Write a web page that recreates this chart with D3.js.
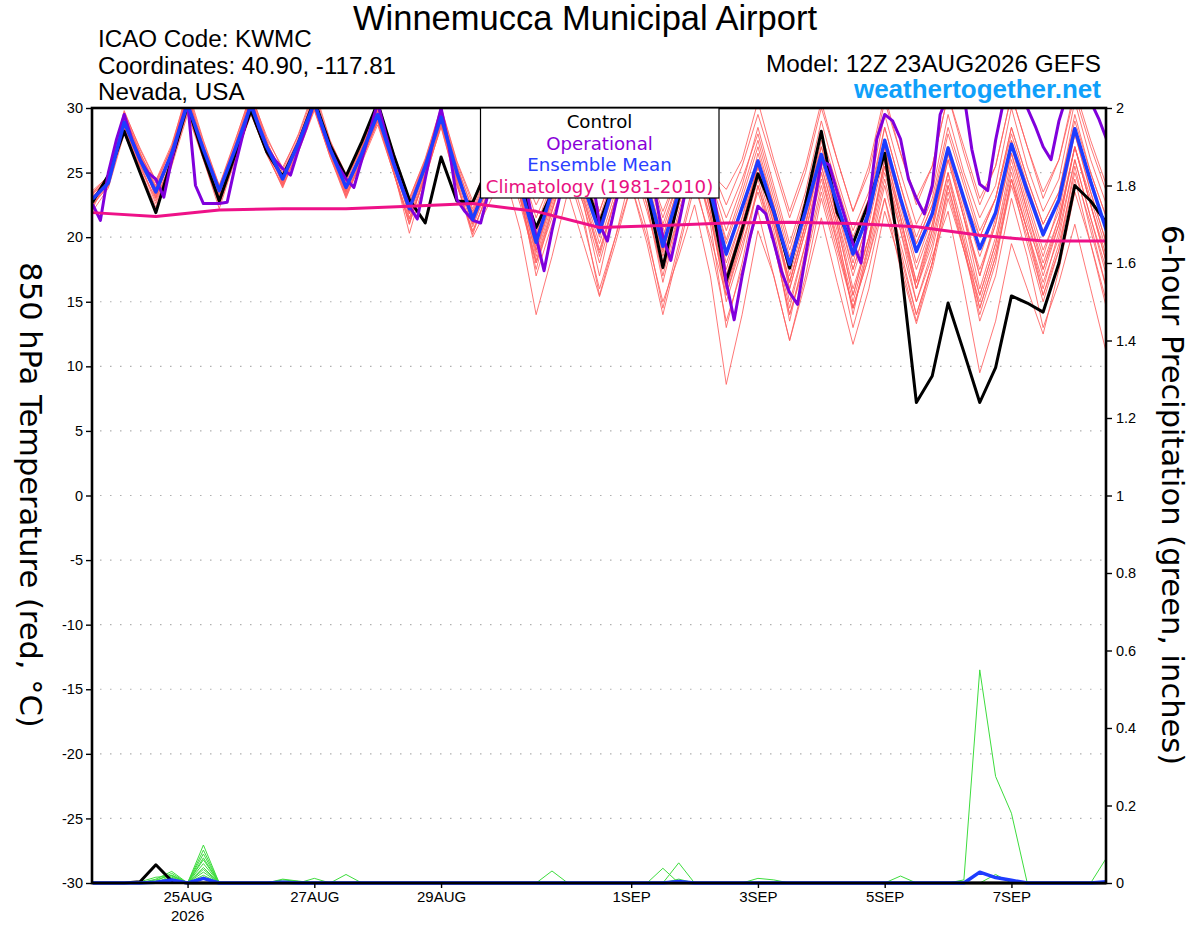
<!DOCTYPE html>
<html>
<head>
<meta charset="utf-8">
<script src="https://cdn.jsdelivr.net/npm/d3@7"></script>
<style>
  body { margin: 0; background: #fff; }
  svg text { font-family: "DejaVu Sans", sans-serif; }
  .head, .tick text { font-family: "Liberation Sans", Arial, sans-serif; }
</style>
</head>
<body>
<svg id="chart" width="1200" height="927"></svg>
<script>
// run 12Z 23AUG2026, 6-hourly to 384 h
const runStart = Date.UTC(2026, 7, 23, 12)
const leadHours = d3.range(0, 385, 6)
const opHours = d3.range(0, 385, 3)
const climoHours = d3.range(0, 385, 24)

const tempTicks = [-30, -25, -20, -15, -10, -5, 0, 5, 10, 15, 20, 25, 30]
const gridTemps = [-25, -20, -15, -10, -5, 0, 5, 10, 15, 20, 25]
const precipTicks = [0, 0.2, 0.4, 0.6, 0.8, 1, 1.2, 1.4, 1.6, 1.8, 2]
const precipTickLabels = ['0', '0.2', '0.4', '0.6', '0.8', '1', '1.2', '1.4', '1.6', '1.8', '2']
const dayTicks = ['2026-08-25', '2026-08-27', '2026-08-29', '2026-09-01', '2026-09-03', '2026-09-05', '2026-09-07']
const dayTickLabels = ['25AUG', '27AUG', '29AUG', '1SEP', '3SEP', '5SEP', '7SEP']

const legendItems = ['Control', 'Operational', 'Ensemble Mean', 'Climatology (1981-2010)']

// 850 hPa temperature, C
const controlTemp = [22.7, 24.8, 28.2, 25.0, 21.9, 26.0, 30.2, 26.3, 22.8, 26.4, 29.8, 26.6, 24.7,
  27.3, 30.6, 27.1, 24.7, 27.4, 30.4, 26.4, 22.9, 21.1, 26.2, 22.8, 22.7,
  25.5, 27.5, 24.2, 20.75, 23.4, 27.0, 24.5, 21.1, 24.5, 27.0, 23.5, 17.65, 23.0, 27.0, 23.0, 16.6,
  20.6, 24.9, 22.0, 17.6, 22.6, 28.2, 21.9, 19.5, 22.7, 26.5, 18.0, 7.2, 9.25, 14.9, 11.1, 7.2,
  9.9, 15.45, 14.9, 14.2, 18.0, 24.0, 22.8, 21.1]

const meanTemp = [22.95, 24.2, 28.9, 26.0, 23.5, 26.5, 30.3, 26.8, 23.6, 26.8, 30.2, 27.0, 24.5,
  27.3, 30.4, 26.8, 23.85, 26.5, 29.5, 25.7, 22.2, 25.5, 29.3, 25.0, 21.4,
  24.5, 27.5, 24.0, 19.6, 23.5, 27.0, 24.0, 20.4, 24.5, 27.5, 24.0, 19.3, 23.5, 27.0, 23.5, 18.7,
  22.3, 25.9, 22.0, 17.9, 22.0, 26.4, 22.6, 18.7, 21.9, 27.5, 23.0, 18.9, 21.8, 26.9, 23.0, 19.1,
  21.9, 27.2, 23.6, 20.2, 22.9, 28.4, 24.3, 20.5]

// operational run is 3-hourly
const operationalTemp = [22.56, 21.3, 25.0, 27.5, 29.5, 27.5, 26.0, 25.0, 24.5, 23.1, 26.0, 28.5, 30.5,
  24.0, 22.6, 22.6, 22.6, 22.7, 25.5, 28.0, 30.5, 28.5, 27.0, 26.0, 25.3, 24.8,
  26.8, 28.5, 30.5, 28.5, 26.8, 25.5, 24.5, 23.85, 26.0, 28.2, 30.4, 28.0, 25.8,
  24.0, 22.4, 21.4, 24.5, 27.5, 30.0, 27.0, 22.9, 22.0, 21.3, 21.1, 23.5, 26.0,
  27.5, 27.0, 25.0, 23.0, 20.0, 17.4, 20.5, 23.2, 26.0, 27.5, 26.5, 25.0, 21.0,
  19.7, 22.5, 25.0, 27.0, 27.0, 25.5, 23.5, 20.0, 18.2, 21.0, 24.0, 26.5, 27.0,
  25.0, 21.0, 16.5, 13.6, 17.0, 20.0, 22.4, 21.8, 19.6, 17.3, 15.7, 14.8, 18.5,
  22.2, 25.9, 25.6, 23.5, 21.5, 19.5, 18.0, 22.5, 27.6, 29.5, 29.0, 27.6, 24.5,
  23.0, 21.8, 24.0, 29.5, 31.0, 32.0, 31.0, 26.8, 24.1, 23.6, 27.5, 30.5, 32.0,
  31.5, 30.0, 28.6, 27.0, 26.0, 29.0, 31.0, 32.0, 31.5, 30.5, 29.2, 27.6]

// daily climatology at 12Z
const climoTemp = [21.9, 21.6, 22.1, 22.2, 22.2, 22.4, 22.6, 22.0, 20.75, 20.9, 21.1, 21.15, 21.05,
  20.8, 20.15, 19.7, 19.7]

const memberTemps = [
  [22.5, 24.0, 29.5, 26.5, 23.0, 26.8, 31.0, 27.0, 23.0, 27.0, 31.0, 27.5, 24.0, 27.5, 31.0, 27.0, 23.5, 26.8, 30.0, 26.0, 21.5, 25.0, 29.5, 25.5, 21.0,
   24.8, 28.0, 24.5, 19.0, 23.0, 27.5, 24.5, 20.0, 24.0, 28.0, 24.5, 19.0, 23.0, 27.5, 23.0, 17.5,
   21.5, 26.5, 22.5, 17.0, 21.5, 27.0, 23.0, 18.0, 22.5, 28.5, 24.0, 19.5, 22.5, 28.0, 24.0, 20.0, 23.0, 28.5, 24.5, 21.0, 23.5, 29.5, 25.0, 21.5],
  [23.3, 24.5, 28.5, 25.5, 23.8, 26.2, 30.0, 26.5, 23.8, 26.5, 29.8, 26.8, 24.8, 27.0, 30.0, 26.5, 24.2, 26.3, 29.0, 25.5, 22.5, 25.8, 29.0, 24.5, 21.8,
   24.0, 27.0, 23.5, 18.5, 22.5, 26.5, 23.0, 18.5, 23.0, 26.5, 22.5, 17.0, 22.0, 26.0, 21.5, 15.5,
   19.5, 23.5, 19.5, 14.0, 18.5, 24.0, 19.5, 14.5, 19.0, 24.5, 19.5, 15.0, 19.0, 24.5, 20.0, 14.5, 18.5, 24.0, 20.0, 15.5, 19.5, 25.0, 21.0, 16.0],
  [23.0, 24.8, 29.8, 26.8, 24.3, 27.0, 31.5, 27.5, 24.0, 27.5, 31.0, 27.8, 25.2, 28.0, 31.5, 27.5, 24.8, 27.0, 30.5, 26.5, 23.0, 26.0, 30.0, 25.8, 22.5,
   25.5, 29.0, 25.5, 21.5, 24.5, 28.5, 25.5, 22.0, 25.5, 29.0, 25.5, 21.5, 25.0, 29.0, 25.5, 22.5,
   25.5, 29.5, 25.5, 21.5, 25.0, 30.0, 26.0, 22.0, 25.0, 30.5, 26.5, 23.0, 25.5, 31.0, 27.0, 23.0, 25.5, 31.0, 27.0, 23.5, 26.0, 31.5, 27.5, 24.0],
  [22.0, 23.8, 28.0, 25.0, 22.0, 25.5, 29.5, 26.0, 22.5, 26.0, 29.5, 26.5, 23.8, 26.8, 30.0, 26.2, 23.0, 26.0, 29.0, 25.0, 21.0, 24.8, 28.5, 24.0, 20.5,
   23.5, 26.5, 23.0, 17.5, 22.0, 26.0, 22.5, 17.0, 22.5, 26.5, 22.5, 16.5, 21.5, 26.0, 21.0, 13.0,
   18.0, 24.0, 20.0, 13.5, 19.0, 25.0, 20.5, 14.0, 19.5, 26.0, 21.5, 16.5, 20.5, 26.5, 21.5, 16.0, 20.0, 26.0, 21.5, 17.0, 21.0, 27.0, 22.5, 18.0],
  [23.5, 24.5, 29.0, 26.0, 23.5, 26.5, 30.5, 27.0, 23.8, 27.0, 30.5, 27.0, 24.5, 27.5, 30.8, 27.0, 24.0, 26.8, 29.8, 26.0, 22.0, 25.5, 29.0, 24.8, 21.0,
   24.0, 27.0, 23.0, 18.0, 21.5, 25.0, 21.0, 16.0, 20.0, 24.0, 20.0, 15.0, 18.5, 22.5, 17.0, 8.6,
   14.0, 20.5, 17.0, 12.0, 17.0, 23.0, 18.5, 13.0, 17.5, 23.0, 18.5, 14.0, 18.0, 23.5, 19.0, 15.0, 19.0, 24.5, 20.5, 16.0, 20.5, 26.0, 21.5, 17.0],
  [22.8, 24.2, 29.2, 26.2, 23.2, 26.8, 30.8, 26.5, 23.2, 26.5, 30.2, 27.2, 24.2, 27.0, 30.5, 26.6, 23.5, 26.2, 29.5, 25.5, 21.8, 25.2, 29.6, 25.2, 21.2,
   24.5, 27.8, 24.0, 19.5, 23.5, 27.5, 24.0, 20.5, 24.5, 27.5, 24.0, 19.5, 23.5, 27.5, 23.5, 18.5,
   22.5, 26.0, 21.5, 16.5, 21.0, 26.5, 21.5, 16.0, 20.0, 25.5, 20.5, 15.0, 18.5, 22.0, 16.0, 9.5, 13.5, 19.5, 16.0, 12.5, 17.5, 23.5, 19.5, 15.0],
  [23.2, 24.0, 28.6, 25.8, 23.6, 26.4, 30.2, 26.8, 23.4, 26.6, 30.0, 26.8, 24.6, 27.2, 30.2, 26.8, 24.0, 26.6, 29.6, 25.8, 22.4, 25.6, 29.2, 25.0, 21.6,
   24.2, 27.2, 23.5, 17.0, 21.0, 25.5, 21.5, 15.5, 20.0, 25.0, 20.5, 14.5, 19.5, 24.5, 19.5, 13.5,
   17.5, 22.0, 17.0, 12.0, 16.5, 21.5, 16.5, 11.7, 16.0, 22.0, 18.0, 13.5, 18.0, 24.0, 19.5, 15.5, 19.5, 25.5, 21.0, 17.5, 21.0, 27.0, 22.5, 18.5],
  [22.4, 24.4, 29.4, 26.4, 24.0, 27.0, 31.0, 27.2, 23.6, 27.2, 30.8, 27.4, 24.8, 27.6, 30.8, 27.2, 24.4, 27.0, 30.2, 26.2, 22.6, 25.8, 29.8, 25.6, 22.0,
   25.0, 28.5, 25.0, 20.5, 24.0, 28.0, 24.5, 21.0, 25.0, 28.5, 24.5, 20.0, 24.0, 28.0, 24.0, 19.5,
   23.0, 27.0, 22.5, 18.0, 22.0, 27.5, 22.5, 17.5, 21.5, 27.0, 21.5, 16.0, 19.5, 25.0, 19.5, 13.5, 17.0, 23.0, 18.5, 13.0, 16.5, 21.0, 16.0, 11.0],
  [23.0, 24.0, 28.8, 25.6, 22.6, 26.0, 30.0, 26.4, 22.8, 26.4, 30.0, 26.6, 24.2, 27.0, 30.2, 26.4, 23.4, 26.0, 29.0, 25.2, 21.2, 24.8, 28.8, 24.2, 20.0,
   22.5, 25.0, 20.5, 14.0, 18.5, 23.5, 19.5, 15.4, 19.5, 24.0, 19.5, 14.0, 19.0, 24.0, 20.0, 15.5,
   20.0, 25.5, 21.5, 16.5, 21.0, 26.5, 22.0, 17.5, 21.5, 27.0, 22.5, 18.0, 21.5, 27.0, 22.5, 18.5, 22.0, 27.5, 23.0, 19.0, 22.0, 28.0, 23.5, 19.5],
  [22.6, 24.6, 29.6, 26.6, 23.8, 26.6, 30.6, 26.8, 23.5, 26.8, 30.4, 27.2, 24.4, 27.4, 30.6, 26.8, 23.8, 26.6, 29.6, 25.8, 22.2, 25.4, 29.4, 25.2, 21.6,
   24.8, 28.2, 24.5, 20.0, 24.0, 28.0, 24.5, 21.0, 25.0, 28.5, 25.0, 20.5, 24.5, 28.5, 24.5, 20.5,
   24.0, 28.5, 24.0, 19.5, 23.5, 29.0, 24.5, 20.5, 23.5, 29.5, 25.0, 21.0, 23.5, 29.5, 25.0, 21.5, 24.0, 30.0, 25.5, 22.0, 24.5, 30.5, 26.0, 22.5],
  [23.4, 24.4, 28.4, 25.8, 23.4, 26.2, 30.0, 26.6, 23.6, 26.6, 29.8, 26.8, 24.4, 27.0, 30.0, 26.6, 23.6, 26.2, 29.2, 25.4, 21.8, 25.2, 29.0, 24.6, 21.2,
   24.0, 27.0, 23.5, 19.0, 23.0, 27.0, 23.5, 19.5, 23.5, 27.0, 23.5, 18.5, 22.5, 26.5, 22.5, 17.0,
   21.0, 25.5, 21.5, 16.0, 20.5, 25.5, 21.0, 15.5, 20.0, 25.5, 21.0, 16.0, 20.0, 25.0, 20.5, 15.5, 19.5, 25.0, 20.5, 15.5, 19.0, 24.5, 19.5, 14.5],
  [22.9, 24.3, 29.0, 26.3, 23.7, 26.7, 30.4, 26.9, 23.7, 26.9, 30.3, 27.1, 24.6, 27.4, 30.5, 26.9, 23.9, 26.5, 29.4, 25.6, 22.0, 25.4, 29.2, 24.9, 21.5,
   24.5, 27.5, 24.0, 20.0, 23.5, 27.0, 24.0, 20.5, 24.5, 27.5, 24.0, 19.5, 23.5, 27.0, 23.5, 19.0,
   22.5, 26.0, 22.0, 18.0, 22.0, 26.5, 22.5, 18.5, 22.0, 27.5, 23.0, 19.0, 22.0, 27.0, 23.0, 19.0, 22.0, 27.5, 23.5, 20.0, 23.0, 28.5, 24.5, 20.5],
  [23.1, 24.1, 28.7, 25.9, 23.3, 26.3, 30.1, 26.7, 23.5, 26.7, 30.1, 26.9, 24.5, 27.2, 30.3, 26.7, 23.7, 26.4, 29.3, 25.5, 21.9, 25.3, 29.1, 24.8, 21.3,
   24.3, 27.3, 23.8, 19.3, 23.3, 26.8, 23.6, 20.2, 24.2, 27.2, 23.7, 19.0, 23.0, 26.8, 23.0, 18.0,
   21.5, 25.5, 21.0, 16.0, 20.5, 25.0, 19.5, 14.5, 18.5, 23.0, 17.5, 13.3, 17.5, 23.0, 19.0, 14.5, 18.5, 24.5, 20.5, 16.5, 20.0, 26.0, 21.5, 17.5],
  [22.7, 24.5, 29.3, 26.5, 24.2, 26.9, 30.9, 27.1, 24.0, 27.1, 30.7, 27.3, 25.0, 27.7, 30.9, 27.1, 24.6, 26.9, 30.0, 26.1, 22.8, 25.9, 29.7, 25.4, 22.2,
   25.2, 28.3, 24.8, 20.8, 24.3, 28.2, 25.0, 21.5, 25.2, 28.6, 25.2, 21.0, 24.5, 28.5, 24.8, 21.5,
   24.5, 28.0, 23.5, 19.0, 23.0, 28.0, 24.0, 20.0, 23.0, 28.5, 24.0, 20.0, 23.0, 28.5, 24.5, 20.5, 23.0, 28.5, 24.5, 21.0, 23.5, 29.0, 25.0, 21.5],
  [23.6, 24.7, 28.2, 25.4, 23.0, 25.8, 29.7, 26.2, 23.1, 26.2, 29.6, 26.4, 24.0, 26.6, 29.8, 26.2, 23.3, 25.8, 28.7, 25.0, 21.4, 24.6, 28.6, 24.0, 20.4,
   23.5, 26.5, 22.5, 18.0, 22.0, 26.0, 22.5, 18.0, 22.5, 26.0, 22.0, 17.5, 21.5, 25.5, 21.5, 16.0,
   20.5, 25.0, 20.5, 15.0, 19.5, 24.5, 20.0, 15.0, 19.5, 25.0, 20.5, 16.0, 20.5, 26.0, 21.5, 17.0, 21.0, 26.5, 22.0, 17.5, 21.5, 27.0, 22.5, 18.0],
  [22.2, 24.6, 29.7, 26.9, 24.4, 27.2, 31.2, 27.4, 23.9, 27.4, 31.2, 27.6, 25.4, 27.9, 31.2, 27.4, 24.9, 27.2, 30.4, 26.6, 23.0, 26.1, 30.1, 25.9, 22.8,
   25.8, 29.0, 25.5, 22.5, 25.0, 29.0, 25.5, 22.0, 25.5, 29.5, 25.5, 22.0, 25.0, 29.5, 25.0, 23.7,
   26.0, 30.5, 26.0, 22.0, 25.5, 30.5, 26.0, 22.0, 25.5, 31.0, 26.5, 22.5, 25.5, 31.0, 26.5, 22.5, 25.5, 31.0, 27.0, 23.0, 26.0, 31.0, 27.0, 23.5],
  [23.2, 24.2, 28.9, 26.1, 23.9, 26.6, 30.3, 26.9, 23.8, 26.8, 30.1, 27.0, 24.7, 27.3, 30.4, 26.9, 24.1, 26.7, 29.7, 25.9, 22.4, 25.7, 29.5, 25.1, 21.7,
   24.6, 27.6, 24.2, 20.3, 23.8, 27.3, 24.2, 20.7, 24.4, 27.4, 23.8, 18.0, 22.5, 26.5, 22.5, 17.0,
   21.0, 25.5, 21.0, 16.5, 21.0, 26.0, 21.5, 17.0, 21.0, 26.5, 22.0, 17.5, 21.0, 26.0, 21.5, 17.5, 21.0, 26.5, 22.0, 18.0, 21.5, 27.0, 23.0, 19.0],
  [22.8, 24.0, 28.5, 25.7, 22.8, 26.1, 30.0, 26.3, 22.6, 26.3, 29.9, 26.7, 24.3, 27.1, 30.1, 26.5, 23.2, 26.1, 29.1, 25.2, 20.3, 24.5, 28.7, 24.3, 20.2,
   23.8, 27.0, 23.2, 18.8, 22.8, 26.8, 23.2, 19.0, 23.0, 26.8, 23.2, 18.8, 23.0, 27.0, 22.0, 16.0,
   20.0, 24.5, 20.0, 14.5, 19.5, 25.5, 21.0, 15.5, 20.0, 26.0, 21.5, 16.5, 21.0, 26.5, 22.0, 17.0, 21.5, 27.0, 22.5, 18.5, 22.5, 28.0, 23.5, 19.5],
  [23.4, 24.8, 29.1, 26.2, 23.1, 26.4, 30.7, 27.0, 23.3, 26.7, 30.6, 27.1, 24.1, 27.3, 30.7, 27.0, 24.3, 26.9, 29.9, 25.9, 22.1, 25.6, 29.3, 24.9, 21.9,
   24.7, 27.8, 24.3, 19.8, 23.6, 27.4, 24.1, 20.8, 24.6, 27.8, 24.1, 20.0, 24.0, 27.5, 24.0, 19.8,
   23.5, 27.5, 23.0, 18.5, 22.5, 27.0, 22.5, 18.5, 22.0, 27.0, 23.0, 19.5, 22.5, 27.0, 23.0, 20.0, 23.0, 28.0, 24.0, 20.5, 23.0, 28.5, 24.5, 20.5],
  [22.5, 23.9, 28.3, 25.3, 22.3, 25.9, 29.8, 26.0, 22.2, 26.0, 29.7, 26.4, 23.9, 26.9, 29.9, 26.3, 23.1, 26.0, 28.9, 25.0, 21.0, 24.9, 28.9, 24.4, 20.8,
   24.0, 26.8, 23.0, 18.2, 22.2, 26.2, 22.8, 18.8, 23.0, 26.8, 23.0, 18.0, 22.5, 26.5, 22.0, 15.0,
   19.0, 24.0, 19.5, 14.0, 18.0, 23.5, 19.0, 14.5, 18.5, 24.0, 19.0, 14.0, 18.0, 24.0, 19.0, 14.0, 18.0, 24.5, 19.5, 15.0, 19.0, 25.5, 20.5, 16.0]
]

// 6-hour precipitation, inches
const controlPrecip = [0, 0, 0, .003, .047, .005, 0, 0, 0, 0, 0, 0, 0,
  0, 0, 0, 0, 0, 0, 0, 0, 0, 0, 0, 0, 0,
  0, 0, 0, 0, 0, 0, 0, 0, 0, 0, 0, 0, 0,
  0, 0, 0, 0, 0, 0, 0, 0, 0, 0, 0, 0, 0,
  0, 0, 0, 0, 0, 0, 0, 0, 0, 0, 0, 0, 0]

const meanPrecip = [0, 0, 0, 0, .002, .008, 0, .012, 0, 0, 0, 0, .002,
  0, 0, 0, 0, 0, 0, 0, 0, 0, 0, 0, 0, 0,
  0, 0, 0, 0, 0, 0, 0, 0, 0, 0, 0, .004, 0,
  0, 0, 0, 0, 0, 0, 0, 0, 0, 0, 0, 0, 0,
  0, 0, 0, 0, .028, .014, .007, 0, 0, 0, 0, 0, .003]

const memberPrecip = [
  [0, 0, 0, 0, .01, .03, 0, .098, 0, 0, 0, 0, 0,  0, 0, 0, 0, 0, 0, 0, 0, 0, 0, 0, 0, 0,
   0, 0, 0, 0, 0, 0, 0, 0, 0, 0, 0, 0, 0,  0, 0, 0, 0, 0, 0, 0, 0, 0, 0, 0, 0, 0,  0, 0, 0, 0, 0, 0, 0, 0, 0, 0, 0, 0, 0],
  [0, 0, 0, 0, 0, .02, 0, .085, 0, 0, 0, 0, .01,  .005, 0, 0, 0, 0, 0, 0, 0, 0, 0, 0, 0, 0,
   0, 0, 0, 0, 0, 0, 0, 0, 0, 0, 0, 0, 0,  0, 0, 0, 0, 0, 0, 0, 0, 0, 0, 0, 0, 0,  0, 0, 0, 0, 0, 0, 0, 0, 0, 0, 0, 0, 0],
  [0, 0, 0, 0, .005, .025, 0, .075, 0, 0, 0, 0, 0,  0, .012, 0, .022, 0, 0, 0, 0, 0, 0, 0, 0, 0,
   0, 0, 0, 0, 0, 0, 0, 0, 0, 0, 0, 0, 0,  0, 0, 0, 0, 0, 0, 0, 0, 0, 0, 0, 0, 0,  0, 0, 0, 0, 0, 0, 0, 0, 0, 0, 0, 0, 0],
  [0, 0, 0, 0, 0, .015, 0, .065, 0, 0, 0, 0, 0,  0, 0, 0, 0, 0, 0, 0, 0, 0, 0, 0, 0, 0,
   0, 0, 0, .031, 0, 0, 0, 0, 0, 0, 0, 0, 0,  0, 0, 0, 0, 0, 0, 0, 0, 0, 0, 0, 0, 0,  0, 0, 0, 0, 0, 0, 0, 0, 0, 0, 0, 0, 0],
  [0, 0, 0, 0, 0, .01, 0, .05, 0, 0, 0, 0, 0,  0, 0, 0, 0, 0, 0, 0, 0, 0, 0, 0, 0, 0,
   0, 0, 0, 0, 0, 0, 0, 0, 0, 0, .038, 0, 0,  0, 0, 0, 0, 0, 0, 0, 0, 0, 0, 0, 0, 0,  0, 0, 0, 0, 0, 0, 0, 0, 0, 0, 0, 0, 0],
  [0, 0, 0, 0, .008, .02, 0, .035, 0, 0, 0, 0, 0,  0, 0, 0, 0, 0, 0, 0, 0, 0, 0, 0, 0, 0,
   0, 0, 0, 0, 0, 0, 0, 0, 0, 0, 0, .052, 0,  0, 0, 0, 0, 0, 0, 0, 0, 0, 0, 0, 0, 0,  0, 0, 0, 0, 0, 0, 0, 0, 0, 0, 0, 0, 0],
  [0, 0, 0, 0, 0, .012, 0, .02, 0, 0, 0, 0, 0,  0, 0, 0, 0, 0, 0, 0, 0, 0, 0, 0, 0, 0,
   0, 0, 0, 0, 0, 0, 0, 0, 0, 0, 0, .01, 0,  0, 0, 0, .012, .008, 0, 0, 0, 0, 0, 0, 0, 0,  0, 0, 0, 0, 0, 0, 0, 0, 0, 0, 0, 0, 0],
  [0, 0, 0, .003, .015, .018, 0, .01, 0, 0, 0, 0, 0,  0, 0, 0, 0, 0, 0, 0, 0, 0, 0, 0, 0, 0,
   0, 0, 0, 0, 0, 0, 0, 0, 0, 0, 0, 0, 0,  0, 0, 0, 0, 0, 0, 0, 0, 0, 0, 0, 0, .018,  0, 0, 0, 0, 0, 0, 0, 0, 0, 0, 0, 0, 0],
  [0, 0, 0, 0, 0, .005, 0, .04, 0, 0, 0, 0, 0,  0, 0, 0, 0, 0, 0, 0, 0, 0, 0, 0, 0, 0,
   0, 0, 0, 0, 0, 0, 0, 0, 0, 0, 0, 0, 0,  0, 0, 0, 0, 0, 0, 0, 0, 0, 0, 0, 0, 0,  0, 0, 0, .008, .55, .275, .18, 0, 0, 0, 0, 0, 0],
  [0, 0, 0, 0, 0, 0, 0, .028, 0, 0, 0, 0, 0,  0, 0, 0, 0, 0, 0, 0, 0, 0, 0, 0, 0, 0,
   0, 0, 0, 0, 0, 0, 0, 0, 0, 0, 0, 0, 0,  0, 0, 0, 0, 0, 0, 0, 0, 0, 0, 0, 0, 0,  0, 0, 0, 0, 0, .022, 0, 0, 0, 0, 0, 0, 0],
  [0, 0, 0, 0, 0, .008, 0, .06, 0, 0, 0, 0, 0,  0, 0, 0, 0, 0, 0, 0, 0, 0, 0, 0, 0, 0,
   0, 0, 0, 0, 0, 0, 0, 0, 0, 0, 0, 0, 0,  0, 0, 0, 0, 0, 0, 0, 0, 0, 0, 0, 0, 0,  0, 0, 0, 0, 0, 0, 0, 0, 0, 0, 0, 0, .065],
  [0, 0, 0, 0, 0, 0, 0, 0, 0, 0, 0, 0, .008,  .004, 0, 0, 0, 0, 0, 0, 0, 0, 0, 0, 0, 0,
   0, 0, 0, 0, 0, 0, 0, 0, 0, 0, 0, 0, 0,  0, 0, 0, 0, 0, 0, 0, 0, 0, 0, 0, 0, 0,  0, 0, 0, 0, 0, 0, 0, 0, 0, 0, 0, 0, 0],
  [0, 0, 0, 0, 0, 0, 0, .015, 0, 0, 0, 0, 0,  0, 0, 0, 0, 0, 0, 0, 0, 0, 0, 0, 0, 0,
   0, 0, 0, 0, 0, 0, 0, 0, 0, 0, 0, 0, 0,  0, 0, 0, 0, 0, 0, 0, 0, 0, 0, 0, 0, 0,  0, 0, 0, 0, 0, 0, 0, 0, 0, 0, 0, 0, 0]
]

const svg = d3.select('#chart')
const plot = {left: 92, right: 1106, top: 108, bottom: 883}
const at = h => new Date(runStart + h * 3600e3)

const x = d3.scaleUtc().domain([at(0), at(384)]).range([plot.left + 0.5, plot.right + 0.5])
const yT = d3.scaleLinear().domain([-30, 30]).range([plot.bottom, plot.top])
const yP = d3.scaleLinear().domain([0, 2]).range([plot.bottom, plot.top])

svg.append('clipPath').attr('id', 'clip').append('rect')
    .attr('x', plot.left).attr('y', plot.top)
    .attr('width', plot.right - plot.left).attr('height', plot.bottom - plot.top + 2)

// dotted gridlines at temperature ticks
svg.append('g').selectAll('line').data(gridTemps).join('line')
    .attr('x1', plot.left + 8).attr('x2', plot.right)
    .attr('y1', d => yT(d)).attr('y2', d => yT(d))
    .attr('stroke', '#b0b0b0').attr('stroke-width', 1.2).attr('stroke-dasharray', '1.5,8.5')

const lines = svg.append('g').attr('clip-path', 'url(#clip)')
const tempLine = hrs => d3.line().x((d, i) => x(at(hrs[i]))).y(d => yT(d))
const precipLine = d3.line().x((d, i) => x(at(leadHours[i]))).y(d => yP(d))

function draw(data, gen, color, width) {
    lines.append('g').selectAll('path').data(data).join('path')
        .attr('d', gen).attr('fill', 'none')
        .attr('stroke', color).attr('stroke-width', width)
        .attr('stroke-linejoin', 'round')
}

draw(memberTemps, tempLine(leadHours), '#ff5f5f', 0.85)
draw(memberPrecip, precipLine, '#3ddc3d', 1)
draw([controlPrecip], precipLine, '#000', 3)
draw([meanPrecip], precipLine, '#1e3cff', 3.5)
draw([controlTemp], tempLine(leadHours), '#000', 3)
draw([operationalTemp], tempLine(opHours), '#8000dc', 3)
draw([meanTemp], tempLine(leadHours), '#1e3cff', 3.5)
draw([climoTemp], tempLine(climoHours), '#ee1188', 3)

// frame
svg.append('rect')
    .attr('x', plot.left).attr('y', plot.top)
    .attr('width', plot.right - plot.left).attr('height', plot.bottom - plot.top)
    .attr('fill', 'none').attr('stroke', '#000').attr('stroke-width', 2.6)

// left axis
const left = svg.append('g').attr('transform', `translate(${plot.left},0)`)
    .call(d3.axisLeft(yT).tickValues(tempTicks).tickSize(6).tickPadding(3).tickFormat(d => String(d)))
left.select('.domain').remove()
left.selectAll('.tick line').attr('stroke-width', 1.4)
left.selectAll('.tick text').attr('font-size', 14.5)

// right axis
const right = svg.append('g').attr('transform', `translate(${plot.right},0)`)
    .call(d3.axisRight(yP).tickValues(precipTicks).tickSize(6).tickPadding(4)
        .tickFormat((d, i) => precipTickLabels[i]))
right.select('.domain').remove()
right.selectAll('.tick line').attr('stroke-width', 1.4)
right.selectAll('.tick text').attr('font-size', 14.5)

// bottom axis
const dayDates = dayTicks.map(d => new Date(d + 'T00:00:00Z'))
const bottom = svg.append('g').attr('transform', `translate(0,${plot.bottom})`)
    .call(d3.axisBottom(x).tickValues(dayDates).tickSize(5).tickPadding(3)
        .tickFormat((d, i) => dayTickLabels[i]))
bottom.select('.domain').remove()
bottom.selectAll('.tick line').attr('stroke-width', 1.4)
bottom.selectAll('.tick text').attr('font-size', 15)
svg.append('text').attr('class', 'head').attr('x', x(dayDates[0])).attr('y', 921)
    .attr('text-anchor', 'middle').attr('font-size', 15).text('2026')

// axis titles
svg.append('text').attr('transform', `translate(20,495) rotate(90)`)
    .attr('text-anchor', 'middle').attr('font-size', 30.5)
    .text('850 hPa Temperature (red, \u00B0C)')
svg.append('text').attr('transform', `translate(1162,495) rotate(90)`)
    .attr('text-anchor', 'middle').attr('font-size', 30.5)
    .text('6-hour Precipitation (green, inches)')

// header
svg.append('text').attr('class', 'head').attr('x', 585).attr('y', 30)
    .attr('text-anchor', 'middle').attr('font-size', 34.5).text('Winnemucca Municipal Airport')
const info = ['ICAO Code: KWMC', 'Coordinates: 40.90, -117.81', 'Nevada, USA']
svg.append('g').selectAll('text').data(info).join('text').attr('class', 'head')
    .attr('x', 98).attr('y', (d, i) => 47 + i * 26.5).attr('font-size', 24.2).text(d => d)
svg.append('text').attr('class', 'head').attr('x', 1101).attr('y', 72)
    .attr('text-anchor', 'end').attr('font-size', 24.3).text('Model: 12Z 23AUG2026 GEFS')
svg.append('text').attr('class', 'head').attr('x', 1101).attr('y', 98)
    .attr('text-anchor', 'end').attr('font-size', 26).attr('font-weight', 'bold')
    .attr('fill', '#0fa0fa').text('weathertogether.net')

// legend
const legendColors = ['#000', '#8a00d8', '#2a40ff', '#e8107f']
svg.append('rect').attr('x', 480.5).attr('y', plot.top).attr('width', 238.5).attr('height', 90)
    .attr('fill', '#fff').attr('stroke', '#000').attr('stroke-width', 1.2)
svg.append('g').selectAll('text').data(legendItems).join('text')
    .attr('x', 599.5).attr('y', (d, i) => 128 + i * 21.5)
    .attr('text-anchor', 'middle').attr('font-size', 18.2)
    .attr('fill', (d, i) => legendColors[i]).text(d => d)
</script>
</body>
</html>
